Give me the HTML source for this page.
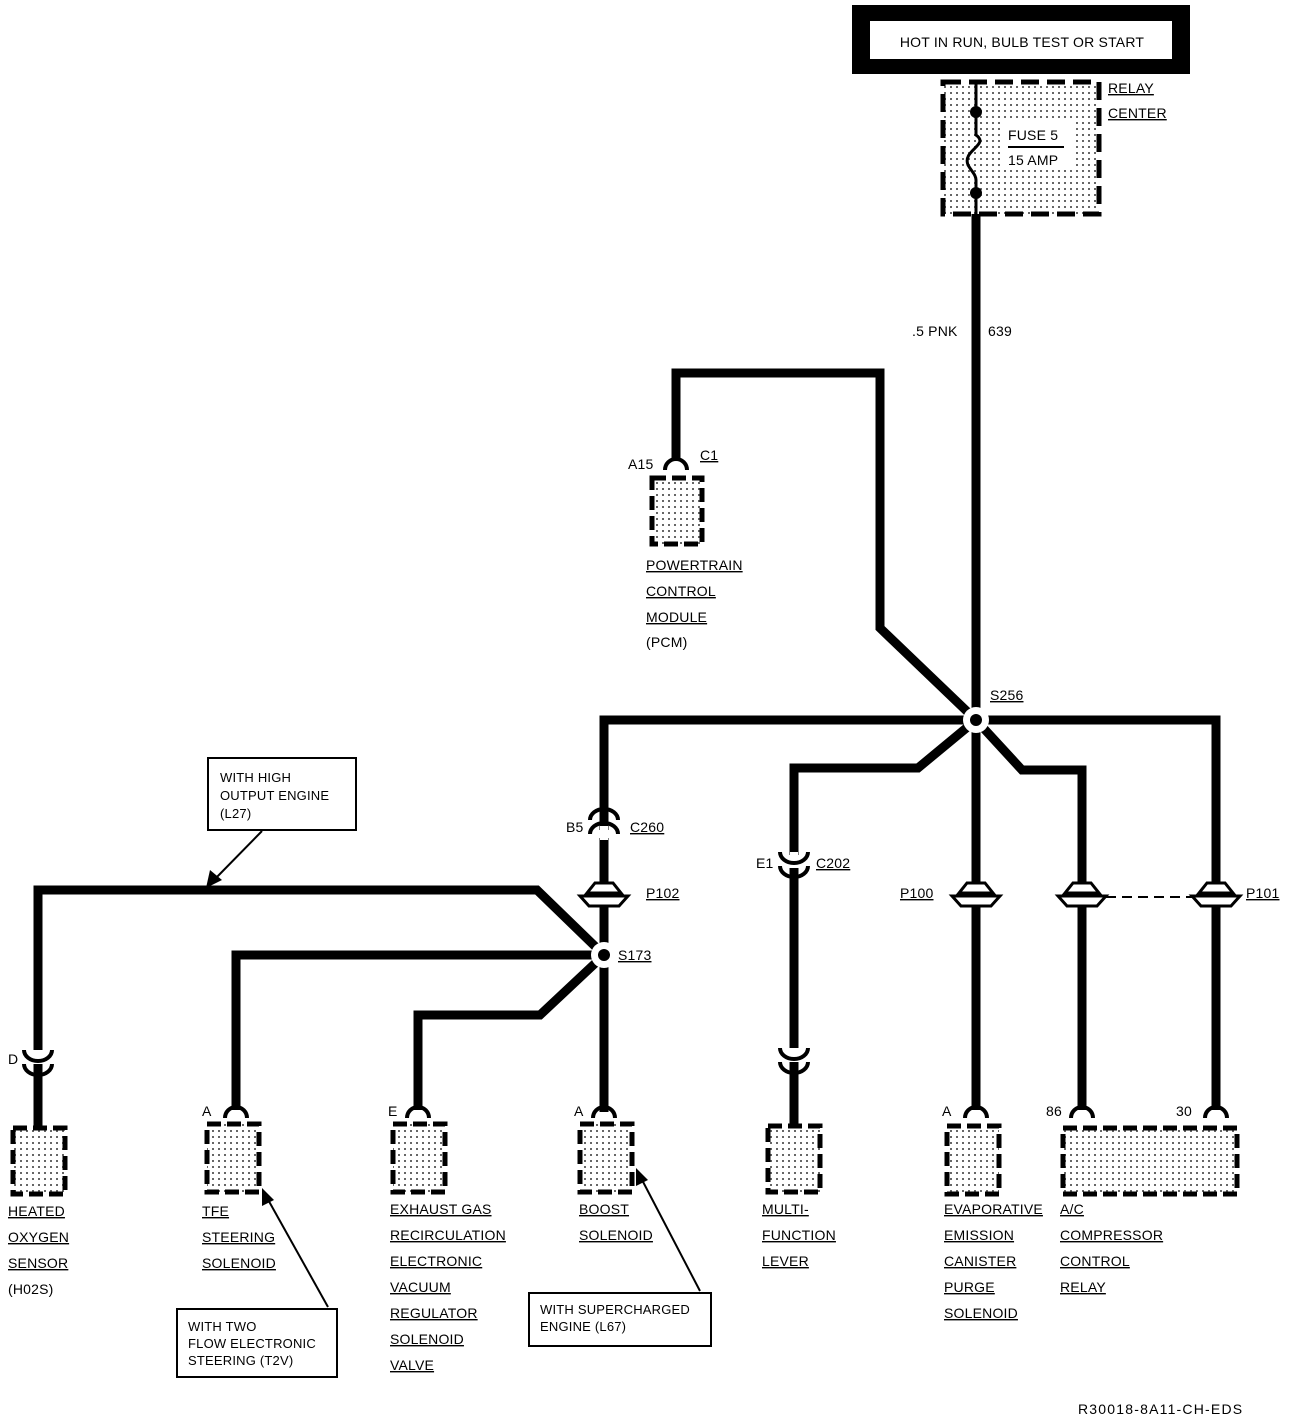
<!DOCTYPE html>
<html><head><meta charset="utf-8"><style>
html,body{margin:0;padding:0;background:#fff}
svg{display:block}
text{font-family:"Liberation Sans",sans-serif;font-size:14px;fill:#000;letter-spacing:0.2px}
.u{text-decoration:underline}
</style></head><body>
<svg width="1296" height="1422" viewBox="0 0 1296 1422" xmlns="http://www.w3.org/2000/svg">
<defs>
<pattern id="dots" width="6" height="6" patternUnits="userSpaceOnUse"><rect width="6" height="6" fill="#fff"/><rect x="2" y="2" width="2" height="2" fill="#666"/></pattern>
<g id="arch"><path d="M-11,0 A11,11 0 0 1 11,0" fill="none" stroke="#000" stroke-width="4"/></g>
<g id="capcap"><path d="M-14,4 A14,11 0 0 1 14,4" fill="none" stroke="#000" stroke-width="4"/><path d="M-14,18 A14,11 0 0 1 14,18" fill="none" stroke="#000" stroke-width="4"/></g>
<g id="cupcup"><path d="M-14,-4 A14,11 0 0 0 14,-4" fill="none" stroke="#000" stroke-width="4"/><path d="M-14,10 A14,11 0 0 0 14,10" fill="none" stroke="#000" stroke-width="4"/></g>
<g id="pin"><path d="M-17,0 L-9,-10 L9,-10 L17,0 Z" fill="#fff" stroke="#000" stroke-width="3"/><path d="M-24,3 L24,3 L15,13 L-15,13 Z" fill="#fff" stroke="#000" stroke-width="3"/></g>
</defs>

<rect x="852" y="5" width="338" height="69" fill="#000"/>
<rect x="870" y="21" width="302" height="38" fill="#fff"/>
<text x="1022" y="47" text-anchor="middle">HOT IN RUN, BULB TEST OR START</text>

<rect x="943" y="82" width="156" height="132" fill="url(#dots)" stroke="#000" stroke-width="5" stroke-dasharray="18,8"/>
<rect x="1002" y="122" width="70" height="48" fill="#fff"/>
<path d="M976,80 L976,135 C990,145 962,150 968,165 C972,172 976,175 976,180 L976,215" fill="none" stroke="#000" stroke-width="3"/>
<circle cx="976" cy="112" r="6"/><circle cx="976" cy="193" r="6"/>
<text x="1008" y="140">FUSE 5</text>
<line x1="1008" y1="147" x2="1064" y2="147" stroke="#000" stroke-width="2"/>
<text x="1008" y="165">15 AMP</text>
<text x="1108" y="93" class="u">RELAY</text>
<text x="1108" y="118" class="u">CENTER</text>

<g fill="none" stroke="#000" stroke-width="9" stroke-linejoin="miter">
<path d="M976,214 L976,720"/>
<path d="M976,720 L880,628 L880,373 L676,373 L676,458"/>
<path d="M604,830 L604,720 L1216,720 L1216,1110"/>
<path d="M604,838 L604,1112"/>
<path d="M976,720 L918,768 L794,768 L794,855"/>
<path d="M794,868 L794,1048"/><path d="M794,1062 L794,1125"/>
<path d="M976,720 L976,1110"/>
<path d="M976,720 L1022,770 L1082,770 L1082,1110"/>
<path d="M604,955 L537,890 L38,890 L38,1050"/>
<path d="M38,1064 L38,1127"/>
<path d="M604,955 L236,955 L236,1110"/>
<path d="M604,955 L540,1015 L418,1015 L418,1110"/>
</g>
<circle cx="976" cy="720" r="13" fill="#fff"/><circle cx="976" cy="720" r="6"/>
<circle cx="604" cy="955" r="13" fill="#fff"/><circle cx="604" cy="955" r="6"/>
<rect x="600" y="826" width="8" height="14" fill="#fff"/>
<rect x="790" y="852" width="8" height="14" fill="#fff"/>

<text x="912" y="336">.5 PNK</text><text x="988" y="336">639</text>
<text x="990" y="700" class="u">S256</text>
<text x="618" y="960" class="u">S173</text>

<use href="#arch" x="676" y="470"/>
<text x="628" y="469">A15</text><text x="700" y="460" class="u">C1</text>
<rect x="652" y="478" width="50" height="66" fill="url(#dots)" stroke="#000" stroke-width="5" stroke-dasharray="14,6"/>
<text x="646" y="570" class="u">POWERTRAIN</text>
<text x="646" y="596" class="u">CONTROL</text>
<text x="646" y="622" class="u">MODULE</text>
<text x="646" y="647">(PCM)</text>

<use href="#capcap" x="604" y="816"/>
<text x="566" y="832">B5</text><text x="630" y="832" class="u">C260</text>
<use href="#pin" x="604" y="893"/>
<text x="646" y="898" class="u">P102</text>

<use href="#cupcup" x="794" y="856"/>
<text x="756" y="868">E1</text><text x="816" y="868" class="u">C202</text>
<use href="#cupcup" x="794" y="1052"/>

<use href="#pin" x="976" y="893"/><text x="900" y="898" class="u">P100</text>
<use href="#pin" x="1082" y="893"/>
<use href="#pin" x="1216" y="893"/><text x="1246" y="898" class="u">P101</text>
<line x1="1106" y1="897" x2="1192" y2="897" stroke="#000" stroke-width="2" stroke-dasharray="10,6"/>

<use href="#cupcup" x="38" y="1054"/><text x="8" y="1064">D</text>

<g fill="url(#dots)" stroke="#000" stroke-width="5" stroke-dasharray="14,6">
<rect x="13" y="1128" width="52" height="66"/>
<rect x="207" y="1124" width="52" height="68"/>
<rect x="393" y="1124" width="52" height="68"/>
<rect x="580" y="1124" width="52" height="68"/>
<rect x="768" y="1126" width="52" height="66"/>
<rect x="947" y="1126" width="52" height="68"/>
<rect x="1063" y="1128" width="174" height="66"/>
</g>
<use href="#arch" x="236" y="1118"/><text x="202" y="1116">A</text>
<use href="#arch" x="418" y="1118"/><text x="388" y="1116">E</text>
<use href="#arch" x="604" y="1118"/><text x="574" y="1116">A</text>
<use href="#arch" x="976" y="1118"/><text x="942" y="1116">A</text>
<use href="#arch" x="1082" y="1118"/><text x="1046" y="1116">86</text>
<use href="#arch" x="1216" y="1118"/><text x="1176" y="1116">30</text>

<text x="8" y="1216" class="u">HEATED</text><text x="8" y="1242" class="u">OXYGEN</text><text x="8" y="1268" class="u">SENSOR</text><text x="8" y="1294">(H02S)</text>
<text x="202" y="1216" class="u">TFE</text><text x="202" y="1242" class="u">STEERING</text><text x="202" y="1268" class="u">SOLENOID</text>
<text x="390" y="1214" class="u">EXHAUST GAS</text><text x="390" y="1240" class="u">RECIRCULATION</text><text x="390" y="1266" class="u">ELECTRONIC</text><text x="390" y="1292" class="u">VACUUM</text><text x="390" y="1318" class="u">REGULATOR</text><text x="390" y="1344" class="u">SOLENOID</text><text x="390" y="1370" class="u">VALVE</text>
<text x="579" y="1214" class="u">BOOST</text><text x="579" y="1240" class="u">SOLENOID</text>
<text x="762" y="1214" class="u">MULTI-</text><text x="762" y="1240" class="u">FUNCTION</text><text x="762" y="1266" class="u">LEVER</text>
<text x="944" y="1214" class="u">EVAPORATIVE</text><text x="944" y="1240" class="u">EMISSION</text><text x="944" y="1266" class="u">CANISTER</text><text x="944" y="1292" class="u">PURGE</text><text x="944" y="1318" class="u">SOLENOID</text>
<text x="1060" y="1214" class="u">A/C</text><text x="1060" y="1240" class="u">COMPRESSOR</text><text x="1060" y="1266" class="u">CONTROL</text><text x="1060" y="1292" class="u">RELAY</text>

<g fill="none" stroke="#000" stroke-width="2">
<rect x="208" y="758" width="148" height="72"/>
<rect x="177" y="1309" width="160" height="68"/>
<rect x="529" y="1293" width="182" height="53"/>
<line x1="262" y1="831" x2="214" y2="880"/>
<line x1="328" y1="1307" x2="266" y2="1196"/>
<line x1="700" y1="1291" x2="640" y2="1176"/>
</g>
<path d="M206,888 L210,870 L222,880 Z"/>
<path d="M262,1188 L262,1206 L274,1200 Z"/>
<path d="M636,1168 L636,1186 L648,1180 Z"/>
<text x="220" y="782" style="font-size:13px">WITH HIGH</text><text x="220" y="800" style="font-size:13px">OUTPUT ENGINE</text><text x="220" y="818" style="font-size:13px">(L27)</text>
<text x="188" y="1331" style="font-size:13px">WITH TWO</text><text x="188" y="1348" style="font-size:13px">FLOW ELECTRONIC</text><text x="188" y="1365" style="font-size:13px">STEERING (T2V)</text>
<text x="540" y="1314" style="font-size:13px">WITH SUPERCHARGED</text><text x="540" y="1331" style="font-size:13px">ENGINE (L67)</text>

<text x="1078" y="1414" style="font-size:14px;letter-spacing:1.2px">R30018-8A11-CH-EDS</text>
</svg>
</body></html>
